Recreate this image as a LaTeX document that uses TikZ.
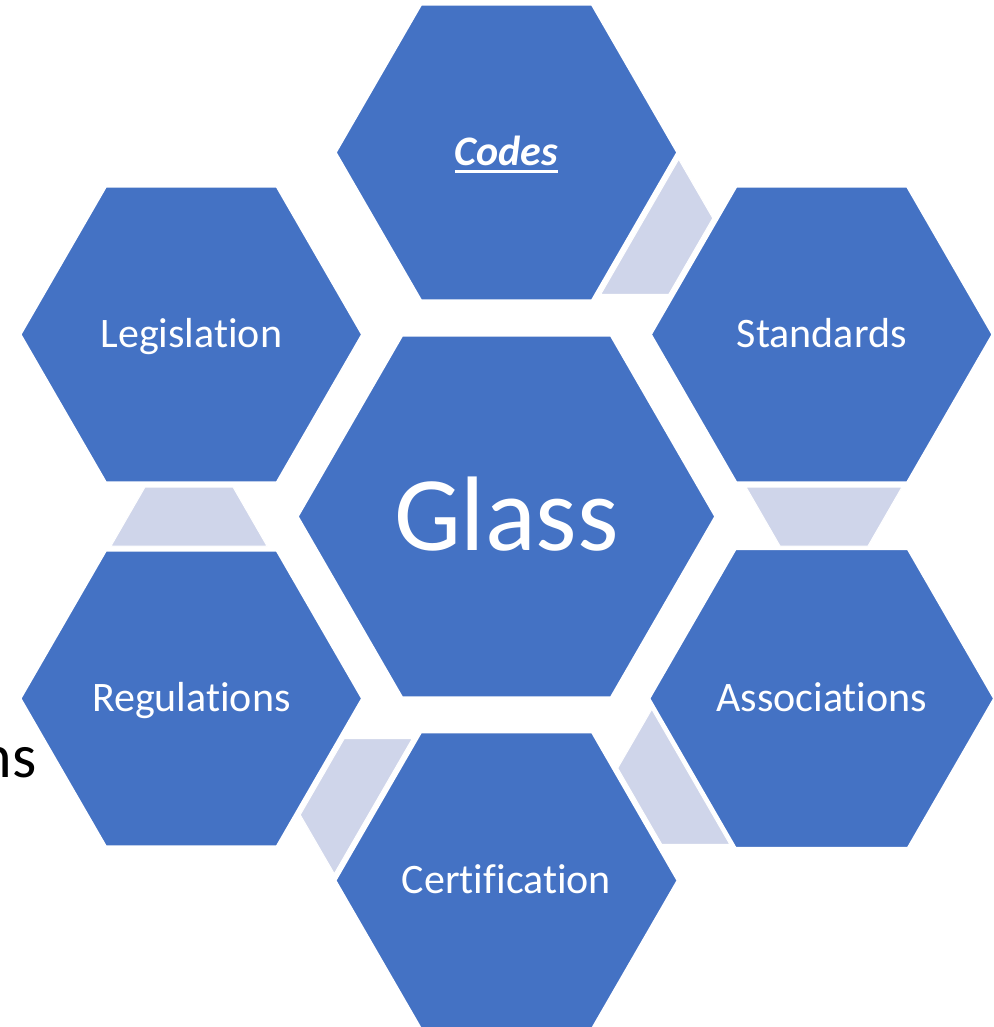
\documentclass[tikz,border=0pt]{standalone}
\usepackage{fontspec}
\setmainfont{Carlito}[Ligatures=NoCommon]
\usetikzlibrary{shapes.geometric}
\definecolor{hexblue}{HTML}{4472C4}
\definecolor{connfill}{HTML}{CFD5EA}
\newcommand\myul[1]{\setbox0\hbox{#1}\rlap{\rule[-7pt]{\wd0}{2.7pt}}\box0}
\begin{document}
\begin{tikzpicture}[x=1pt,y=-1pt,
  hexbase/.style={regular polygon, regular polygon sides=6, fill=hexblue, draw=white, line width=1.5pt, text=white, inner sep=0pt, outer sep=0pt},
  outerhex/.style={hexbase, minimum size=341pt, font=\fontsize{42}{50}\selectfont, text height=26.5pt, text depth=0pt},
  centerhex/.style={hexbase, minimum size=417pt, font=\fontsize{106}{120}\selectfont, text height=67pt, text depth=0pt},
  connector/.style={fill=connfill, draw=white, line width=1pt}]
\useasboundingbox[fill=white] (0,0) rectangle (993,1027);
\coordinate (c) at (506.5,516.5);
% connectors
\foreach \a in {60,0,-60,-120,180}{
  \begin{scope}[shift={(c)}, rotate=\a]
    \draw[connector] (239.5,-29.5) -- (395.5,-29.5) -- (361.5,29.5) -- (273.5,29.5) -- cycle;
  \end{scope}
}
% partially hidden text
\node[anchor=base east, inner sep=0pt, font=\fontsize{62}{70}\selectfont, text=black] (ns) at (37,777) {ns};
% hexagons
\node[centerhex] (glass) at (c) {Glass};
\node[outerhex] (codes) at (506.5,152.5) {\bfseries\itshape\myul{Codes}};
\node[outerhex] (standards) at (821.7,334.5) {Standards};
\node[outerhex] (associations) at (821.7,698.5) {Associations};
\node[outerhex] (certification) at (506.5,880.5) {Certification};
\node[outerhex] (regulations) at (191.3,698.5) {Regulations};
\node[outerhex] (legislation) at (191.3,334.5) {Legislation};
\end{tikzpicture}
\end{document}
